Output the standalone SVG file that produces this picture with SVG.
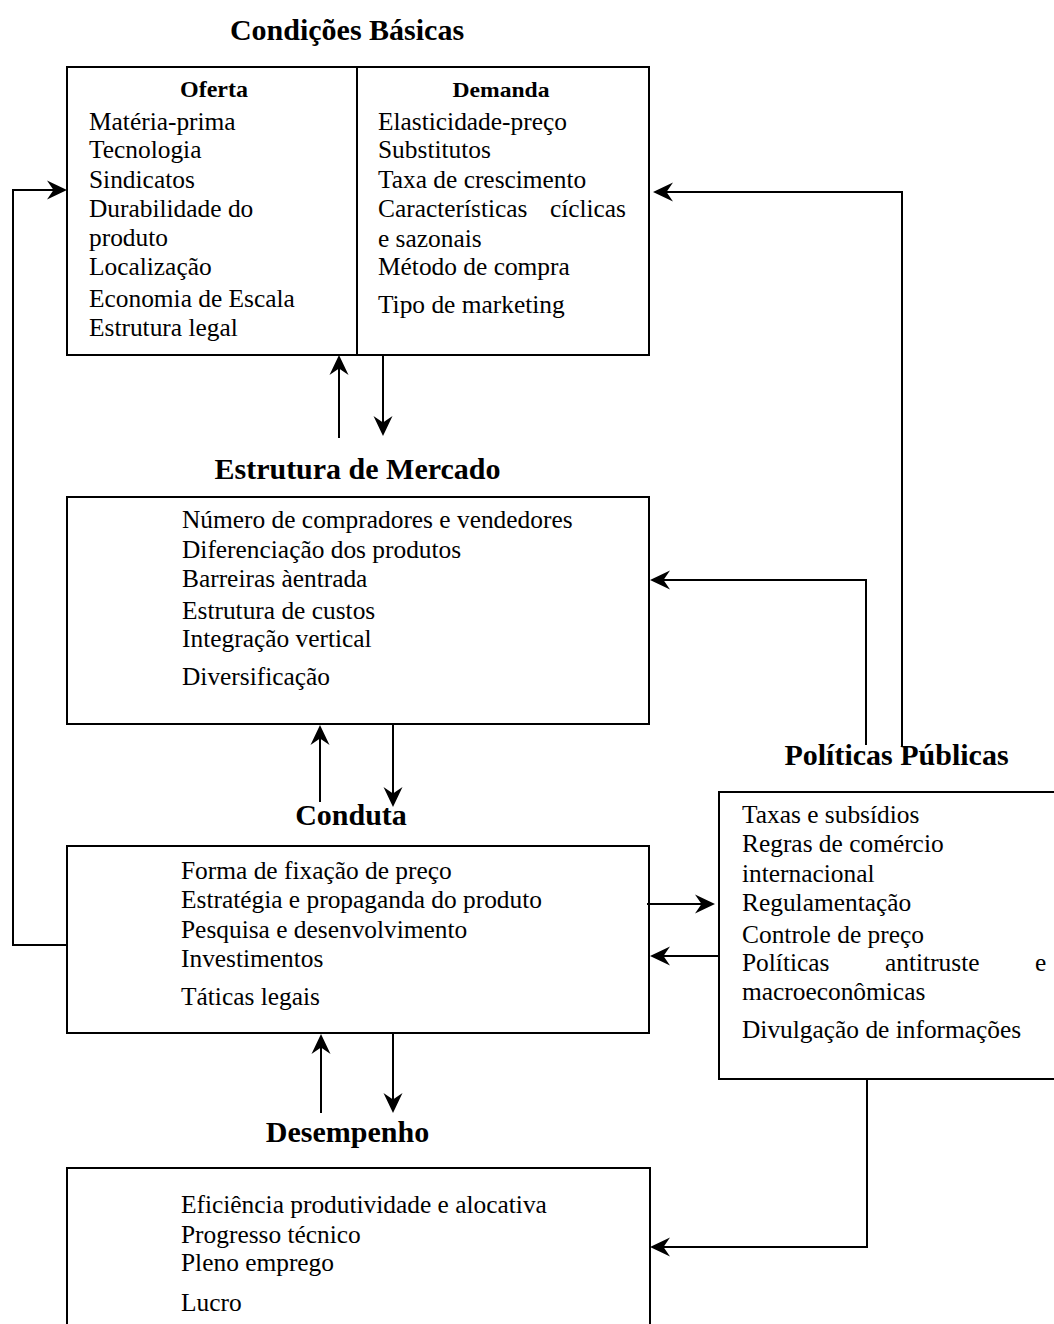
<svg xmlns="http://www.w3.org/2000/svg" width="1054" height="1324" viewBox="0 0 1054 1324">
<style>
  .box { fill: none; stroke: #000; stroke-width: 2; }
  .t { font-family: "Liberation Serif", "Times New Roman", serif; font-size: 25.4px; fill: #000; }
  .h { font-family: "Liberation Serif", "Times New Roman", serif; font-size: 30px; font-weight: bold; fill: #000; text-anchor: middle; }
  .sh { font-family: "Liberation Serif", "Times New Roman", serif; font-weight: bold; fill: #000; text-anchor: middle; }
  .c { fill: none; stroke: #000; stroke-width: 2; }
</style>
<defs>
  <marker id="ah" viewBox="0 0 20 20" markerWidth="20" markerHeight="20" refX="10" refY="10" orient="auto" markerUnits="userSpaceOnUse">
    <path d="M0,0.5 L20,10 L0,19.5 L6.5,10 Z" fill="#000"/>
  </marker>
</defs>
<rect width="1054" height="1324" fill="#fff"/>

<g id="condicoes-basicas">
  <text class="h" x="347" y="40">Condições Básicas</text>
  <rect class="box" x="67" y="67" width="582" height="288"/>
  <line class="box" x1="357" y1="67" x2="357" y2="355"/>
  <text class="sh" x="214" y="97" font-size="24">Oferta</text>
  <text class="t" x="89" y="130">Matéria-prima</text>
  <text class="t" x="89" y="158">Tecnologia</text>
  <text class="t" x="89" y="188">Sindicatos</text>
  <text class="t" x="89" y="217">Durabilidade do</text>
  <text class="t" x="89" y="246">produto</text>
  <text class="t" x="89" y="275">Localização</text>
  <text class="t" x="89" y="307">Economia de Escala</text>
  <text class="t" x="89" y="336">Estrutura legal</text>
  <text class="sh" x="501" y="97" font-size="22" textLength="97" lengthAdjust="spacingAndGlyphs">Demanda</text>
  <text class="t" x="378" y="130">Elasticidade-preço</text>
  <text class="t" x="378" y="158">Substitutos</text>
  <text class="t" x="378" y="188">Taxa de crescimento</text>
  <text class="t" x="378" y="217">Características</text>
  <text class="t" x="626" y="217" text-anchor="end">cíclicas</text>
  <text class="t" x="378" y="247">e sazonais</text>
  <text class="t" x="378" y="275">Método de compra</text>
  <text class="t" x="378" y="313">Tipo de marketing</text>
</g>

<g id="estrutura-de-mercado">
  <text class="h" x="357.5" y="479">Estrutura de Mercado</text>
  <rect class="box" x="67" y="497" width="582" height="227"/>
  <text class="t" x="182" y="528">Número de compradores e vendedores</text>
  <text class="t" x="182" y="558">Diferenciação dos produtos</text>
  <text class="t" x="182" y="587">Barreiras àentrada</text>
  <text class="t" x="182" y="619">Estrutura de custos</text>
  <text class="t" x="182" y="647">Integração vertical</text>
  <text class="t" x="182" y="685">Diversificação</text>
</g>

<g id="conduta">
  <text class="h" x="351" y="825">Conduta</text>
  <rect class="box" x="67" y="846" width="582" height="187"/>
  <text class="t" x="181" y="879">Forma de fixação de preço</text>
  <text class="t" x="181" y="908">Estratégia e propaganda do produto</text>
  <text class="t" x="181" y="938">Pesquisa e desenvolvimento</text>
  <text class="t" x="181" y="967">Investimentos</text>
  <text class="t" x="181" y="1005">Táticas legais</text>
</g>

<g id="politicas-publicas">
  <text class="h" x="896.5" y="765">Políticas Públicas</text>
  <rect class="box" x="719" y="792" width="345" height="287"/>
  <text class="t" x="742" y="823">Taxas e subsídios</text>
  <text class="t" x="742" y="852">Regras de comércio</text>
  <text class="t" x="742" y="882">internacional</text>
  <text class="t" x="742" y="911">Regulamentação</text>
  <text class="t" x="742" y="943">Controle de preço</text>
  <text class="t" x="742" y="971">Políticas</text>
  <text class="t" x="885" y="971">antitruste</text>
  <text class="t" x="1035" y="971">e</text>
  <text class="t" x="742" y="1000">macroeconômicas</text>
  <text class="t" x="742" y="1038">Divulgação de informações</text>
</g>

<g id="desempenho">
  <text class="h" x="347.5" y="1142">Desempenho</text>
  <rect class="box" x="67" y="1168" width="583" height="170"/>
  <text class="t" x="181" y="1213">Eficiência produtividade e alocativa</text>
  <text class="t" x="181" y="1243">Progresso técnico</text>
  <text class="t" x="181" y="1271">Pleno emprego</text>
  <text class="t" x="181" y="1311">Lucro</text>
</g>

<g id="connectors">
  <line class="c" x1="339" y1="438" x2="339" y2="365" marker-end="url(#ah)"/>
  <line class="c" x1="383" y1="355" x2="383" y2="426" marker-end="url(#ah)"/>
  <line class="c" x1="320" y1="802" x2="320" y2="735" marker-end="url(#ah)"/>
  <line class="c" x1="393" y1="724" x2="393" y2="797" marker-end="url(#ah)"/>
  <line class="c" x1="321" y1="1113" x2="321" y2="1044" marker-end="url(#ah)"/>
  <line class="c" x1="393" y1="1033" x2="393" y2="1103" marker-end="url(#ah)"/>
  <polyline class="c" points="67,945 13,945 13,190 57,190" marker-end="url(#ah)"/>
  <polyline class="c" points="902,747 902,192 663,192" marker-end="url(#ah)"/>
  <polyline class="c" points="866,745 866,580 660,580" marker-end="url(#ah)"/>
  <line class="c" x1="647" y1="904" x2="705" y2="904" marker-end="url(#ah)"/>
  <line class="c" x1="719" y1="956" x2="660" y2="956" marker-end="url(#ah)"/>
  <polyline class="c" points="867,1079 867,1247 660,1247" marker-end="url(#ah)"/>
</g>
</svg>
